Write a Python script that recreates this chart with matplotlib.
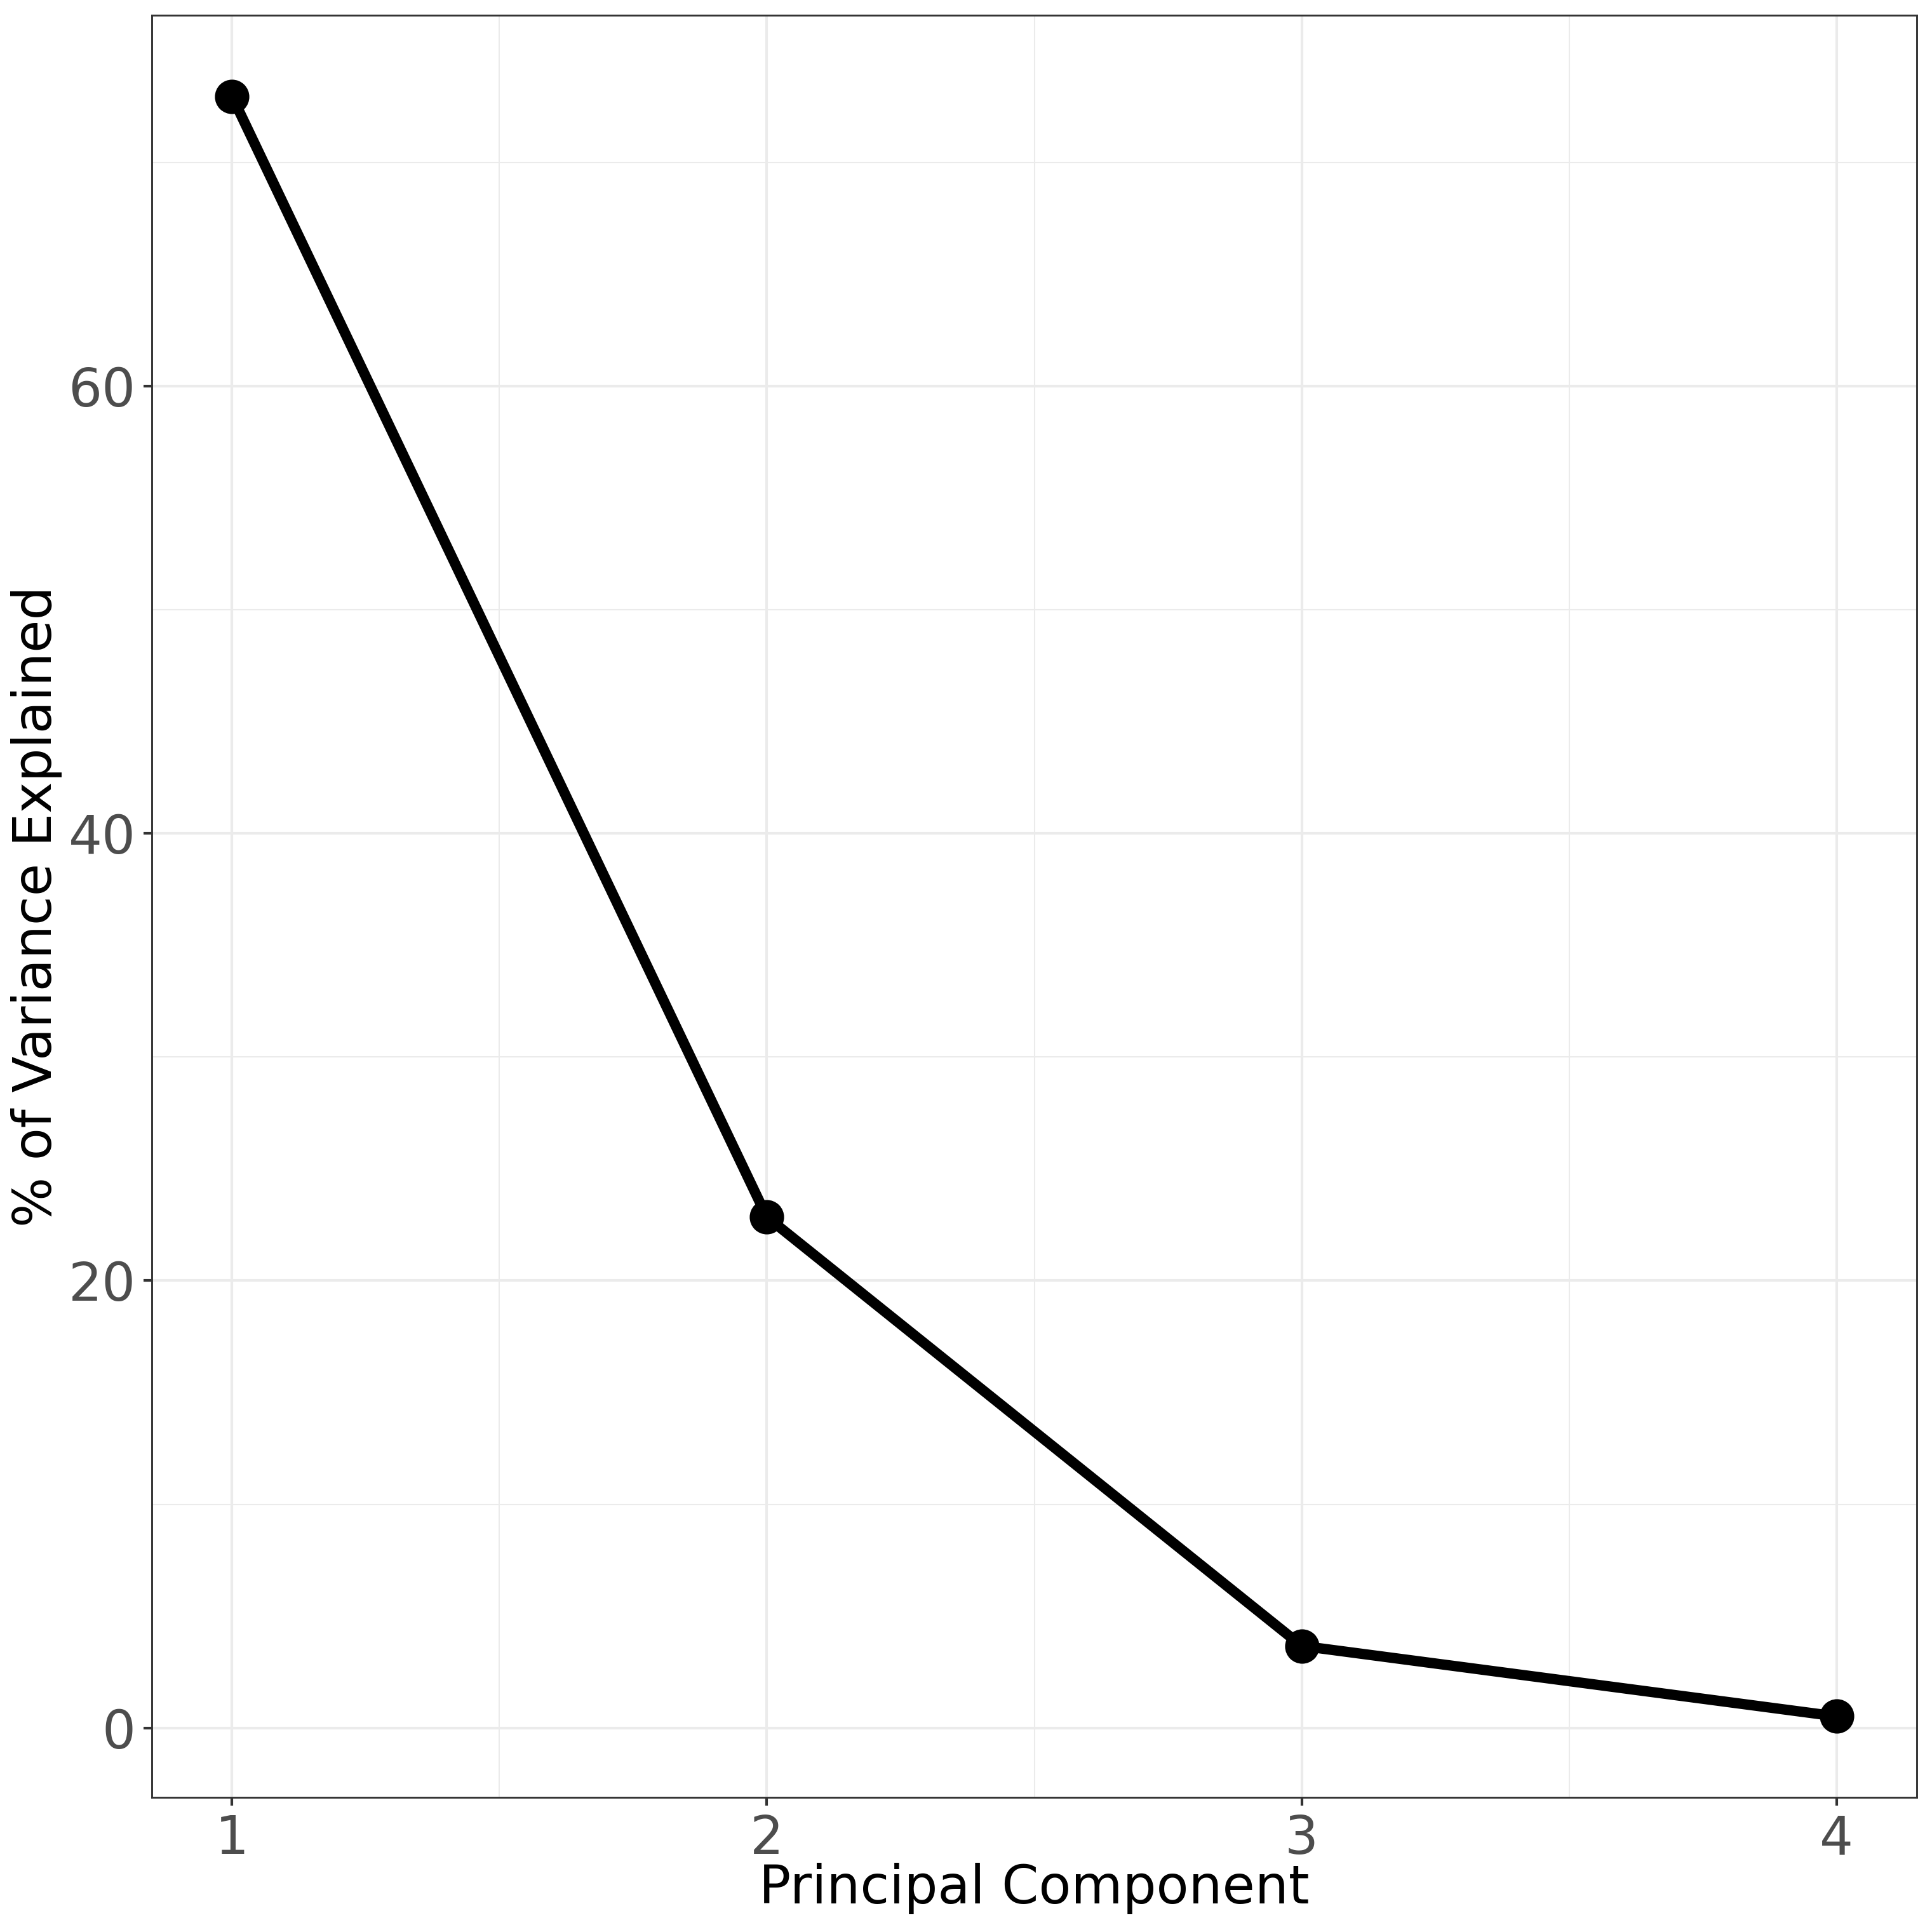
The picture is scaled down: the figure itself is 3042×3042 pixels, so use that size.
import matplotlib
matplotlib.use('Agg')
import matplotlib.pyplot as plt
from matplotlib.ticker import MultipleLocator

## scree plot, % variance explained per PC
pc = [1, 2, 3, 4]
pve = [72.96, 22.85, 3.67, 0.52]
x_ticks = [1, 2, 3, 4]
y_ticks = [0, 20, 40, 60]

plt.rcParams['font.family'] = ['DejaVu Sans']

W = 3042
fig = plt.figure(figsize=(W/300, W/300), dpi=300)
# panel box in pixels: left, right, top, bottom
L, R, T, B = 239, 3018, 24, 2830
ax = fig.add_axes([L/W, 1 - B/W, (R-L)/W, (B-T)/W])

# ggplot-ish expansion of 5%
rng = max(pve) - min(pve)
ax.set_ylim(min(pve) - 0.05*rng, max(pve) + 0.05*rng)
ax.set_xlim(0.85, 4.15)

ax.set_xticks(x_ticks)
ax.set_yticks(y_ticks)
ax.xaxis.set_minor_locator(MultipleLocator(0.5))
ax.yaxis.set_minor_locator(MultipleLocator(10))
ax.grid(which='major', color='#EBEBEB', linewidth=1.0)
ax.grid(which='minor', color='#EBEBEB', linewidth=0.5)
ax.set_axisbelow(True)
ax.tick_params(which='minor', length=0)
ax.tick_params(which='major', length=3.1, width=1.0, color='#333333',
               labelsize=20, labelcolor='#4D4D4D', pad=3)

for s in ax.spines.values():
    s.set_color('#333333')
    s.set_linewidth(0.7)

ax.plot(pc, pve, color='black', linewidth=3.9, zorder=3)
ax.plot(pc, pve, 'o', color='black', markersize=12, zorder=4)

ax.set_xlabel('Principal Component', fontsize=20, color='black')
ax.set_ylabel('% of Variance Explained', fontsize=20, color='black')
ax.xaxis.set_label_coords(0.5, (B-2974)/(B-T))
ax.xaxis.label.set_verticalalignment('center')
ax.yaxis.set_label_coords((58-L)/(R-L), 0.5)
ax.yaxis.label.set_verticalalignment('center')

plt.savefig('out.png', dpi=300)
